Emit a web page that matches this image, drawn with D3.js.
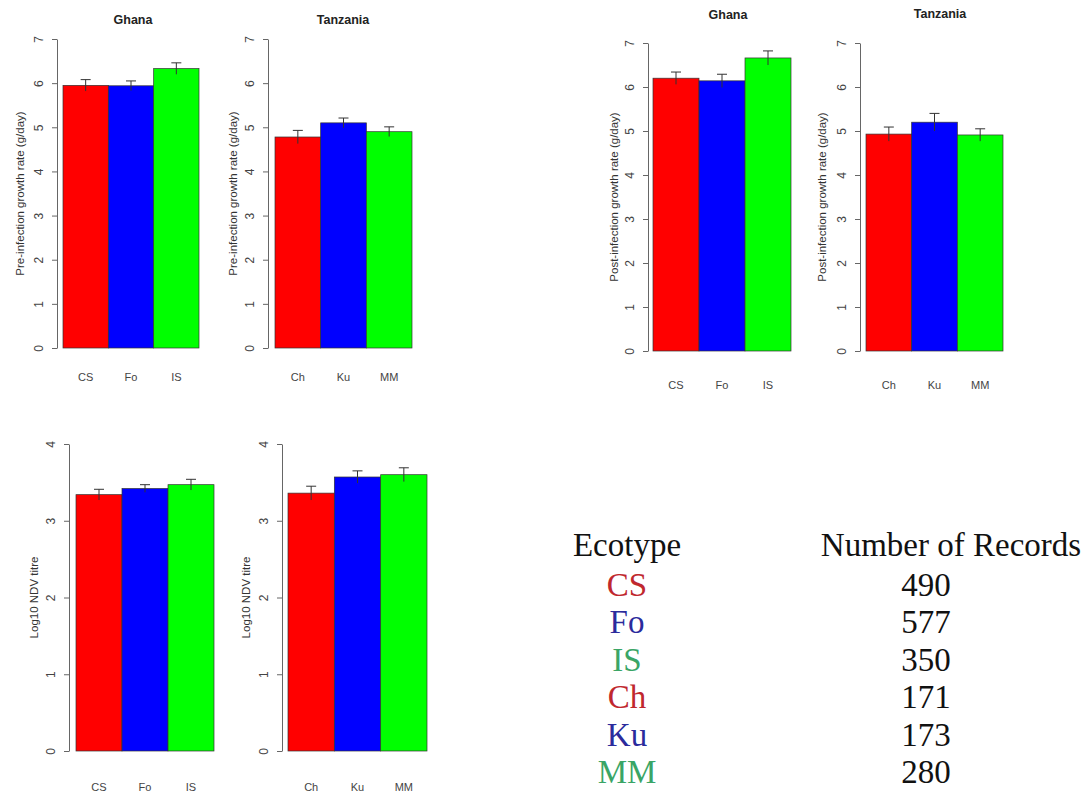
<!DOCTYPE html>
<html>
<head>
<meta charset="utf-8">
<script src="https://cdn.jsdelivr.net/npm/d3@7"></script>
<style>
  body { margin: 0; background: #fff; }
  svg { display: block; font-family: "Liberation Sans", Arial, sans-serif; }
  .axis path, .axis line { stroke: #666; }
  .axis text { fill: #444; font-size: 12px; }
</style>
</head>
<body>
<svg width="1089" height="796"></svg>
<script>
// values
const ghanaEcotypes = ["CS", "Fo", "IS"];
const tanzaniaEcotypes = ["Ch", "Ku", "MM"];

const preGhana = [5.95, 5.94, 6.33];
const preGhanaErr = [0.13, 0.11, 0.13];
const preTanzania = [4.78, 5.1, 4.9];
const preTanzaniaErr = [0.15, 0.11, 0.11];

const postGhana = [6.2, 6.14, 6.66];
const postGhanaErr = [0.14, 0.15, 0.16];
const postTanzania = [4.93, 5.2, 4.91];
const postTanzaniaErr = [0.16, 0.2, 0.14];

const ndvGhana = [3.34, 3.42, 3.47];
const ndvGhanaErr = [0.07, 0.05, 0.07];
const ndvTanzania = [3.36, 3.57, 3.6];
const ndvTanzaniaErr = [0.09, 0.08, 0.09];

const growthTicks = [0, 1, 2, 3, 4, 5, 6, 7];
const ndvTicks = [0, 1, 2, 3, 4];

const tableEcotypes = ["CS", "Fo", "IS", "Ch", "Ku", "MM"];
const tableRecords = [490, 577, 350, 171, 173, 280];

const barColors = ["#ff0000", "#0000ff", "#00ff00"];
const textColors = ["#c0282e", "#2b2b9c", "#3aa566"];

const svg = d3.select("svg");
svg.append("rect").attr("width", 1089).attr("height", 796).attr("fill", "#fff");

// panel layout (pixel boxes)
const panels = [
  { title: "Ghana", titleX: 133, titleY: 24, ax: 57, top: 39, base: 348, x0: 63, x1: 199,
    cats: ghanaEcotypes, vals: preGhana, errs: preGhanaErr, ticks: growthTicks,
    ylab: "Pre-infection growth rate (g/day)", ylabX: 20, labY: 381 },
  { title: "Tanzania", titleX: 343, titleY: 24, ax: 268, top: 39, base: 348, x0: 275, x1: 412,
    cats: tanzaniaEcotypes, vals: preTanzania, errs: preTanzaniaErr, ticks: growthTicks,
    ylab: "Pre-infection growth rate (g/day)", ylabX: 233, labY: 381 },
  { title: "Ghana", titleX: 728, titleY: 19, ax: 648, top: 43, base: 351, x0: 653, x1: 791,
    cats: ghanaEcotypes, vals: postGhana, errs: postGhanaErr, ticks: growthTicks,
    ylab: "Post-infection growth rate (g/day)", ylabX: 614, labY: 389 },
  { title: "Tanzania", titleX: 940, titleY: 18, ax: 860, top: 43, base: 351, x0: 866, x1: 1003,
    cats: tanzaniaEcotypes, vals: postTanzania, errs: postTanzaniaErr, ticks: growthTicks,
    ylab: "Post-infection growth rate (g/day)", ylabX: 822, labY: 389 },
  { title: null, ax: 69, top: 444, base: 751, x0: 76, x1: 214,
    cats: ghanaEcotypes, vals: ndvGhana, errs: ndvGhanaErr, ticks: ndvTicks,
    ylab: "Log10 NDV titre", ylabX: 34, labY: 791 },
  { title: null, ax: 282, top: 444, base: 751, x0: 288, x1: 427,
    cats: tanzaniaEcotypes, vals: ndvTanzania, errs: ndvTanzaniaErr, ticks: ndvTicks,
    ylab: "Log10 NDV titre", ylabX: 246, labY: 791 }
];

panels.forEach(drawPanel);

function drawPanel(p) {
  const g = svg.append("g");
  const maxTick = d3.max(p.ticks);
  const y = d3.scaleLinear().domain([0, maxTick]).range([p.base, p.top]);
  const x = d3.scaleBand().domain(p.cats).range([p.x0, p.x1]).padding(0);

  const rows = p.cats.map((c, i) => ({ cat: c, v: p.vals[i], e: p.errs[i], col: barColors[i] }));

  g.selectAll("rect.bar")
    .data(rows)
    .enter()
    .append("rect")
    .attr("class", "bar")
    .attr("x", (d) => x(d.cat))
    .attr("width", x.bandwidth())
    .attr("y", (d) => y(d.v))
    .attr("height", (d) => y(0) - y(d.v))
    .attr("fill", (d) => d.col)
    .attr("stroke", "#333")
    .attr("stroke-width", 0.7);

  // error bars
  const eb = g.selectAll("g.err").data(rows).enter().append("g").attr("class", "err")
    .attr("stroke", "#333").attr("stroke-width", 1);
  eb.append("line")
    .attr("x1", (d) => x(d.cat) + x.bandwidth() / 2)
    .attr("x2", (d) => x(d.cat) + x.bandwidth() / 2)
    .attr("y1", (d) => y(d.v - d.e))
    .attr("y2", (d) => y(d.v + d.e));
  eb.append("line")
    .attr("x1", (d) => x(d.cat) + x.bandwidth() / 2 - 5)
    .attr("x2", (d) => x(d.cat) + x.bandwidth() / 2 + 5)
    .attr("y1", (d) => y(d.v + d.e))
    .attr("y2", (d) => y(d.v + d.e));

  // y axis, R style with rotated labels
  g.append("g")
    .attr("class", "axis")
    .attr("transform", `translate(${p.ax},0)`)
    .call(d3.axisLeft(y).tickValues(p.ticks).tickSize(5).tickSizeOuter(0).tickFormat(d3.format("d")))
    .call((a) => a.selectAll(".tick text")
      .attr("transform", "rotate(-90)")
      .attr("x", 0)
      .attr("y", -18)
      .attr("dy", "0.35em")
      .attr("text-anchor", "middle"));

  // category labels
  g.selectAll("text.cat")
    .data(rows)
    .enter()
    .append("text")
    .attr("class", "cat")
    .attr("x", (d) => x(d.cat) + x.bandwidth() / 2)
    .attr("y", p.labY)
    .attr("text-anchor", "middle")
    .attr("font-size", "11px")
    .attr("fill", "#444")
    .text((d) => d.cat);

  g.append("text")
    .attr("transform", `translate(${p.ylabX},${(p.top + p.base) / 2}) rotate(-90)`)
    .attr("text-anchor", "middle")
    .attr("dy", "0.35em")
    .attr("font-size", "11.5px")
    .attr("fill", "#333")
    .text(p.ylab);

  if (p.title) {
    g.append("text")
      .attr("x", p.titleX)
      .attr("y", p.titleY)
      .attr("text-anchor", "middle")
      .attr("font-size", "12.5px")
      .attr("font-weight", "bold")
      .attr("fill", "#222")
      .text(p.title);
  }
}

// record count table
const tbl = svg.append("g").attr("font-family", "'Liberation Serif', 'Times New Roman', serif")
  .attr("font-size", "33px").attr("text-anchor", "middle");
tbl.append("text").attr("x", 627).attr("y", 556).attr("fill", "#111").text("Ecotype");
tbl.append("text").attr("x", 951).attr("y", 556).attr("fill", "#111").text("Number of Records");

const rowY = d3.scalePoint().domain(tableEcotypes).range([596, 783]);
tbl.selectAll("text.eco")
  .data(tableEcotypes)
  .enter()
  .append("text")
  .attr("class", "eco")
  .attr("x", 627)
  .attr("y", (d) => rowY(d))
  .attr("fill", (d, i) => textColors[i % 3])
  .text((d) => d);
tbl.selectAll("text.num")
  .data(tableRecords)
  .enter()
  .append("text")
  .attr("class", "num")
  .attr("x", 926)
  .attr("y", (d, i) => rowY(tableEcotypes[i]))
  .attr("fill", "#111")
  .text((d) => d);
</script>
</body>
</html>
